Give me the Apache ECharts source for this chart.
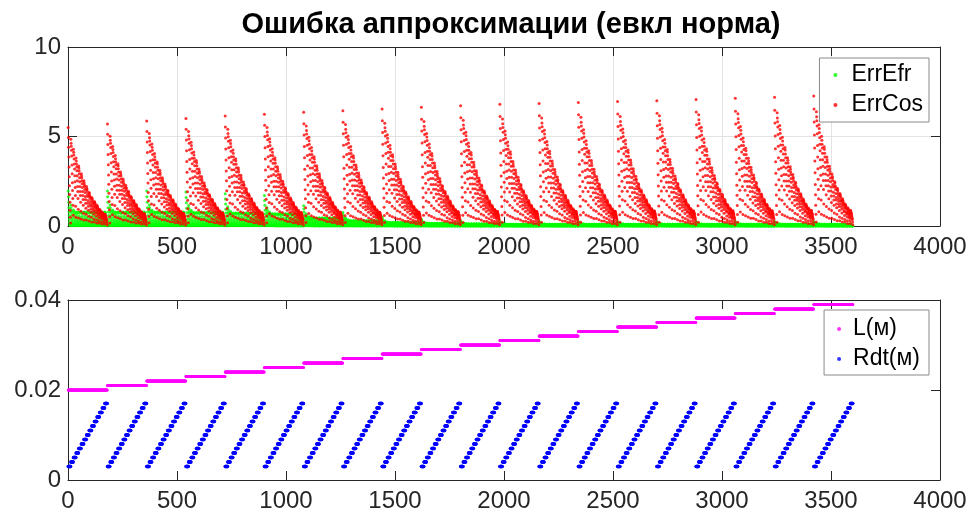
<!DOCTYPE html>
<html>
<head>
<meta charset="utf-8">
<script src="https://cdn.jsdelivr.net/npm/echarts@6/dist/echarts.min.js"></script>
<style>
html, body { margin: 0; padding: 0; background: #fff; }
#main { width: 971px; height: 515px; }
</style>
</head>
<body>
<div id="main"></div>
<script>
// ---- data ----
// 20 cycles of 180 samples; each cycle = 15 Rdt levels x 12 samples
var lLevels = [0.020, 0.021, 0.022, 0.023, 0.024, 0.025, 0.026, 0.027, 0.028, 0.029,
               0.030, 0.031, 0.032, 0.033, 0.034, 0.035, 0.036, 0.037, 0.038, 0.039];
var rdtLevels = [0.003, 0.004, 0.005, 0.006, 0.007, 0.008, 0.009, 0.010,
                 0.011, 0.012, 0.013, 0.014, 0.015, 0.016, 0.017];

// ErrCos: peak of each cycle, and the shape of one cycle (fraction of the peak)
var cosPeaks = [5.5, 5.7, 5.87, 6.0, 6.15, 6.25, 6.35, 6.44, 6.53, 6.63,
                6.72, 6.8, 6.85, 6.9, 6.95, 7.0, 7.07, 7.13, 7.19, 7.26];
var cosShape = [
  [1.00, 0.90, 0.80, 0.70, 0.60, 0.50, 0.41, 0.32, 0.24, 0.16, 0.09, 0.03],
  [0.88, 0.84, 0.81, 0.77, 0.71, 0.62, 0.53, 0.44, 0.36, 0.28, 0.21, 0.11],
  [0.78, 0.75, 0.72, 0.68, 0.63, 0.58, 0.51, 0.45, 0.39, 0.31, 0.20, 0.09],
  [0.69, 0.66, 0.63, 0.60, 0.56, 0.51, 0.46, 0.40, 0.35, 0.28, 0.17, 0.08],
  [0.61, 0.59, 0.56, 0.53, 0.49, 0.45, 0.40, 0.35, 0.31, 0.24, 0.15, 0.07],
  [0.53, 0.51, 0.49, 0.46, 0.43, 0.39, 0.35, 0.31, 0.27, 0.21, 0.13, 0.06],
  [0.46, 0.44, 0.42, 0.40, 0.37, 0.34, 0.30, 0.27, 0.23, 0.18, 0.12, 0.06],
  [0.40, 0.38, 0.37, 0.35, 0.32, 0.30, 0.26, 0.23, 0.20, 0.16, 0.10, 0.05],
  [0.34, 0.33, 0.31, 0.30, 0.28, 0.25, 0.22, 0.20, 0.17, 0.14, 0.09, 0.04],
  [0.29, 0.28, 0.27, 0.25, 0.23, 0.21, 0.19, 0.17, 0.15, 0.12, 0.07, 0.04],
  [0.25, 0.24, 0.23, 0.22, 0.20, 0.19, 0.17, 0.15, 0.13, 0.10, 0.06, 0.03],
  [0.21, 0.20, 0.19, 0.18, 0.17, 0.16, 0.14, 0.12, 0.11, 0.08, 0.05, 0.03],
  [0.17, 0.16, 0.16, 0.15, 0.14, 0.13, 0.11, 0.10, 0.09, 0.07, 0.04, 0.02],
  [0.14, 0.13, 0.13, 0.12, 0.11, 0.10, 0.09, 0.08, 0.07, 0.06, 0.04, 0.02],
  [0.12, 0.12, 0.11, 0.10, 0.10, 0.09, 0.08, 0.07, 0.06, 0.05, 0.03, 0.01]
];

// ErrEfr: band level of each cycle, and the shape of one cycle (fraction of the band)
var efrBands = [0.78, 0.78, 0.78, 0.76, 0.72, 0.68, 0.45, 0.30, 0.20, 0.15,
                0.12, 0.10, 0.10, 0.10, 0.10, 0.10, 0.10, 0.10, 0.10, 0.10];
var efrShape = [
  [2.50, 2.10, 1.70, 1.30, 1.00, 0.75, 0.50, 0.30, 0.18, 0.10, 0.05, 0.02],
  [1.50, 1.30, 1.10, 0.95, 0.75, 0.55, 0.40, 0.25, 0.15, 0.08, 0.04, 0.02],
  [1.15, 1.05, 0.95, 0.80, 0.62, 0.45, 0.32, 0.20, 0.12, 0.07, 0.04, 0.02],
  [1.00, 0.98, 0.90, 0.75, 0.58, 0.42, 0.30, 0.19, 0.12, 0.07, 0.04, 0.01],
  [1.00, 0.98, 0.92, 0.70, 0.55, 0.40, 0.28, 0.18, 0.11, 0.06, 0.03, 0.01],
  [1.00, 0.97, 0.90, 0.68, 0.52, 0.38, 0.27, 0.17, 0.10, 0.06, 0.03, 0.01],
  [1.00, 0.99, 0.93, 0.72, 0.56, 0.41, 0.29, 0.18, 0.11, 0.06, 0.03, 0.01],
  [1.00, 0.98, 0.90, 0.66, 0.50, 0.37, 0.26, 0.16, 0.10, 0.05, 0.03, 0.01],
  [1.00, 0.98, 0.92, 0.70, 0.54, 0.40, 0.28, 0.18, 0.11, 0.06, 0.03, 0.01],
  [1.00, 0.97, 0.91, 0.69, 0.52, 0.38, 0.27, 0.17, 0.10, 0.06, 0.03, 0.01],
  [1.00, 0.99, 0.93, 0.71, 0.55, 0.40, 0.28, 0.18, 0.11, 0.06, 0.03, 0.01],
  [1.00, 0.98, 0.90, 0.67, 0.51, 0.37, 0.26, 0.16, 0.10, 0.05, 0.03, 0.01],
  [1.00, 0.98, 0.92, 0.70, 0.54, 0.40, 0.28, 0.18, 0.11, 0.06, 0.03, 0.01],
  [1.00, 0.97, 0.91, 0.69, 0.52, 0.38, 0.27, 0.17, 0.10, 0.06, 0.03, 0.01],
  [1.00, 0.99, 0.93, 0.71, 0.55, 0.40, 0.28, 0.18, 0.11, 0.06, 0.03, 0.01]
];

var xTicks = [0, 500, 1000, 1500, 2000, 2500, 3000, 3500, 4000];
var titleText = 'Ошибка аппроксимации (евкл норма)';

// ---- build point lists (sample index on x) ----
var errEfr = [], errCos = [], lData = [], rdtData = [];
for (let k = 0; k < lLevels.length; k++) {
    for (let i = 0; i < rdtLevels.length; i++) {
        for (let j = 0; j < cosShape[i].length; j++) {
            let n = k * 180 + i * 12 + j + 1;
            errEfr.push([n, efrBands[k] * efrShape[i][j]]);
            errCos.push([n, cosPeaks[k] * cosShape[i][j]]);
            lData.push([n, lLevels[k]]);
            rdtData.push([n, rdtLevels[i]]);
        }
    }
}

var axisColor = '#262626';
var fontFam = 'Liberation Sans, Arial, sans-serif';

function plain(v) { return String(v); }

function xAx(grid, pos, labels, grid_lines) {
    return {
        gridIndex: grid, type: 'value', position: pos,
        min: xTicks[0], max: xTicks[xTicks.length - 1], interval: 500,
        axisLine: { show: true, onZero: false, lineStyle: { color: axisColor, width: 1 } },
        axisTick: { show: true, inside: true, length: 9, lineStyle: { color: axisColor } },
        axisLabel: { show: labels, fontSize: 24, color: axisColor, fontFamily: fontFam, margin: 9,
                     showMinLabel: true, showMaxLabel: true, formatter: plain },
        splitLine: { show: grid_lines, lineStyle: { color: '#e3e3e3', width: 1 } }
    };
}
function yAx(grid, pos, labels, max, step, grid_lines) {
    return {
        gridIndex: grid, type: 'value', position: pos,
        min: 0, max: max, interval: step,
        axisLine: { show: true, onZero: false, lineStyle: { color: axisColor, width: 1 } },
        axisTick: { show: true, inside: true, length: 9, lineStyle: { color: axisColor } },
        axisLabel: { show: labels, fontSize: 24, color: axisColor, fontFamily: fontFam, margin: 7,
                     showMinLabel: true, showMaxLabel: true, formatter: plain },
        splitLine: { show: grid_lines, lineStyle: { color: '#e3e3e3', width: 1 } }
    };
}

function legendBox(names, top, right, padding, textPad) {
    return {
        data: names, orient: 'vertical', top: top, right: right,
        backgroundColor: '#fff', borderColor: '#8a8a8a', borderWidth: 1,
        padding: padding, itemWidth: 4, itemHeight: 4, itemGap: 6,
        textStyle: { fontSize: 23, lineHeight: 24, color: '#000', fontFamily: fontFam, padding: [0, 0, 0, textPad] }
    };
}

function dots(name, data, color, size, xi, yi) {
    return {
        name: name, type: 'scatter', data: data,
        xAxisIndex: xi, yAxisIndex: yi,
        symbol: 'circle', symbolSize: size,
        itemStyle: { color: color },
        progressive: 0, large: false, silent: true
    };
}

var chart = echarts.init(document.getElementById('main'));
chart.setOption({
    animation: false,
    backgroundColor: '#fff',
    title: {
        text: titleText, left: 506, top: 5, textAlign: 'center',
        textStyle: { fontSize: 29, fontWeight: 'bold', color: '#000', fontFamily: fontFam }
    },
    grid: [
        { left: 68, right: 31, top: 47, height: 179 },
        { left: 68, right: 31, top: 300, height: 180 }
    ],
    xAxis: [
        xAx(0, 'bottom', true, true), xAx(0, 'top', false, false),
        xAx(1, 'bottom', true, false), xAx(1, 'top', false, false)
    ],
    yAxis: [
        yAx(0, 'left', true, 10, 5, true), yAx(0, 'right', false, 10, 5, false),
        yAx(1, 'left', true, 0.04, 0.02, false), yAx(1, 'right', false, 0.04, 0.02, false)
    ],
    legend: [
        legendBox(['ErrEfr', 'ErrCos'], 58, 42, [5, 6, 5, 14], 9),
        legendBox(['L(м)', 'Rdt(м)'], 310, 42, [7, 9, 4, 13], 7)
    ],
    series: [
        dots('ErrEfr', errEfr, '#00ff00', 3, 0, 0),
        dots('ErrCos', errCos, '#ff0000', 3, 0, 0),
        dots('L(м)', lData, '#ff00ff', 3, 2, 2),
        dots('Rdt(м)', rdtData, '#0000ff', 3.5, 2, 2)
    ]
});
</script>
</body>
</html>
